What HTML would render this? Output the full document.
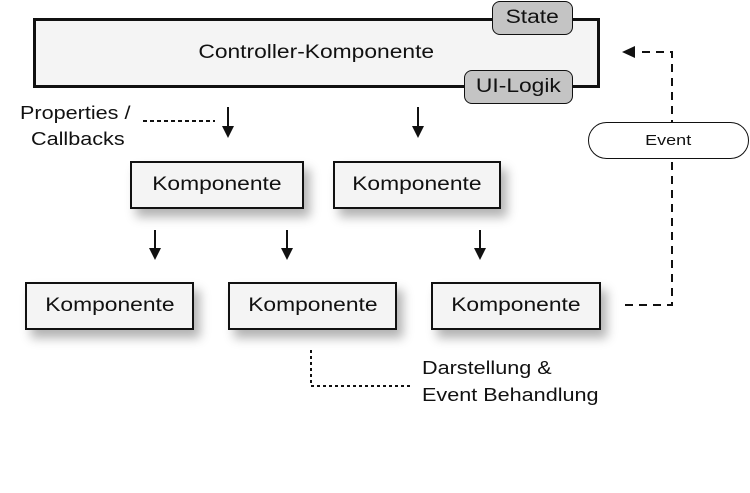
<!DOCTYPE html>
<html><head><style>
body{margin:0;width:750px;height:493px;background:#fff;position:relative;font-family:"Liberation Sans",sans-serif;overflow:hidden}
.b{position:absolute;box-sizing:border-box;border:2px solid #111;background:#f4f4f4;display:flex;align-items:center;justify-content:center;font-size:19px;color:#111;box-shadow:6px 8px 10px rgba(0,0,0,0.3)}
.p{position:absolute;box-sizing:border-box;border:1.5px solid #111;background:#c4c4c4;border-radius:8px;display:flex;align-items:center;justify-content:center;font-size:19px;color:#111}
.t{position:absolute;font-size:18px;color:#111;line-height:26px;transform:scaleX(1.2);transform-origin:left center;white-space:nowrap}
span{display:inline-block;transform:scaleX(1.2)}
svg{position:absolute;left:0;top:0}
</style></head><body>
<svg width="750" height="493">
<g stroke="#111" stroke-width="2" fill="none">
<line x1="143" y1="121" x2="215" y2="121" stroke-dasharray="4,3"/>
<line x1="311" y1="350" x2="311" y2="386" stroke-dasharray="3,3"/>
<line x1="311" y1="386" x2="412" y2="386" stroke-dasharray="3,3"/>
<path d="M625 305 H672 V52 H636" stroke-dasharray="8,6"/>
<line x1="228" y1="107" x2="228" y2="128"/>
<line x1="418" y1="107" x2="418" y2="128"/>
<line x1="155" y1="230" x2="155" y2="250"/>
<line x1="287" y1="230" x2="287" y2="250"/>
<line x1="480" y1="230" x2="480" y2="250"/>
</g>
<g fill="#111">
<polygon points="222,126 234,126 228,138"/>
<polygon points="412,126 424,126 418,138"/>
<polygon points="149,248 161,248 155,260"/>
<polygon points="281,248 293,248 287,260"/>
<polygon points="474,248 486,248 480,260"/>
<polygon points="622,52 635,46 635,58"/>
</g>
</svg>
<div class="b" style="left:33px;top:18px;width:567px;height:70px;box-shadow:none;border-width:3px"><span>Controller-Komponente</span></div>
<div class="p" style="left:492px;top:1px;width:81px;height:34px"><span>State</span></div>
<div class="p" style="left:464px;top:70px;width:109px;height:34px"><span>UI-Logik</span></div>
<div class="t" style="left:20px;top:100px">Properties /</div>
<div class="t" style="left:31px;top:126px">Callbacks</div>
<div class="b" style="left:130px;top:161px;width:174px;height:48px"><span>Komponente</span></div>
<div class="b" style="left:333px;top:161px;width:168px;height:48px"><span>Komponente</span></div>
<div class="b" style="left:25px;top:282px;width:169px;height:48px"><span>Komponente</span></div>
<div class="b" style="left:228px;top:282px;width:169px;height:48px"><span>Komponente</span></div>
<div class="b" style="left:431px;top:282px;width:170px;height:48px"><span>Komponente</span></div>
<div class="b" style="left:588px;top:122px;width:161px;height:37px;border-radius:19px;background:#fff;box-shadow:none;font-size:15px;border-width:1.5px"><span>Event</span></div>
<div class="t" style="left:422px;top:355px">Darstellung &amp;</div>
<div class="t" style="left:422px;top:382px">Event Behandlung</div>
</body></html>
